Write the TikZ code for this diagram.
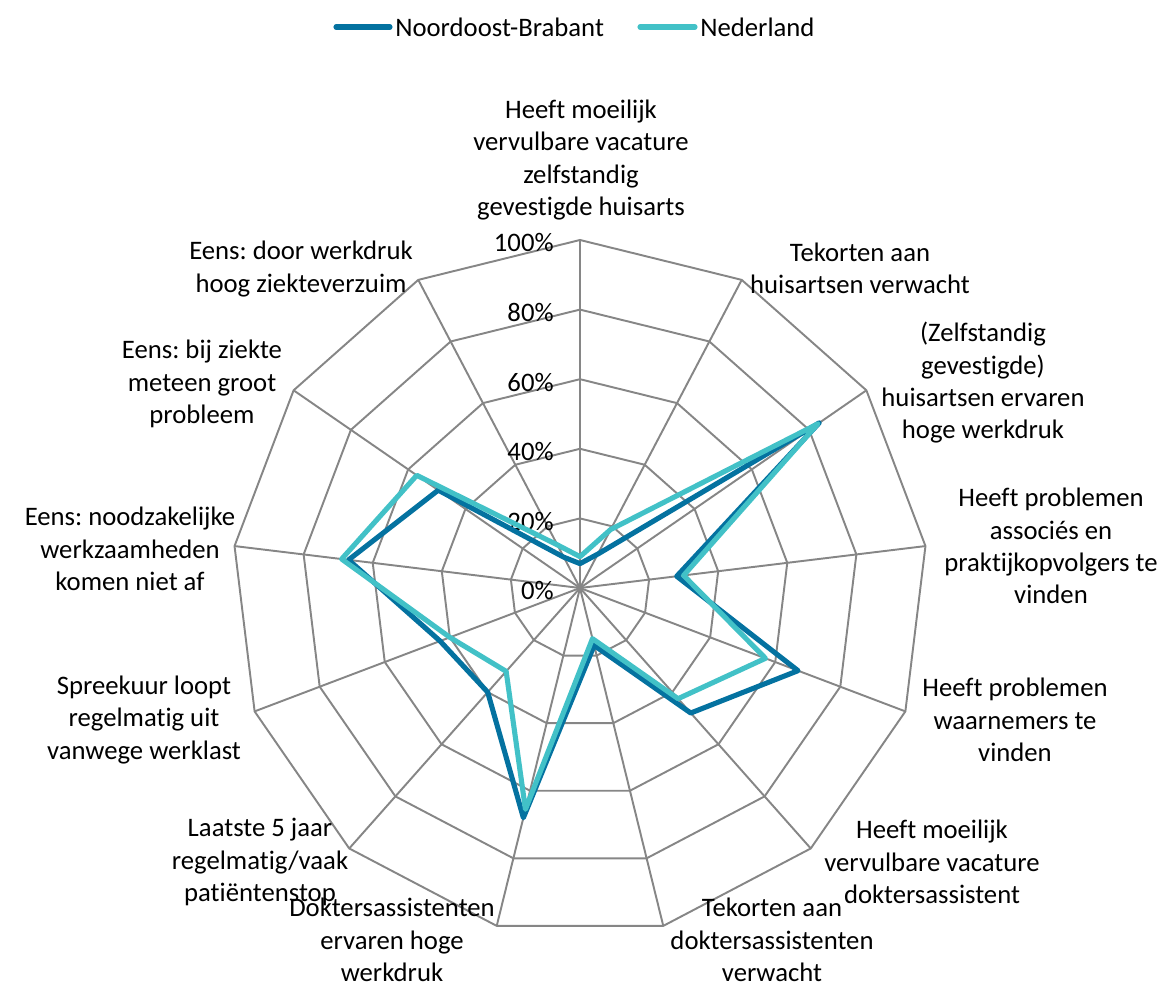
\documentclass[tikz,border=0pt]{standalone}
\usepackage{fontspec}
\setmainfont{Carlito}[Ligatures=NoCommon]
\usetikzlibrary{calc}
\definecolor{nobrabant}{RGB}{4,114,160}
\definecolor{nederland}{RGB}{66,193,199}
\definecolor{raster}{RGB}{134,134,134}
\frenchspacing

\begin{document}
\begin{tikzpicture}[x=0.02cm,y=0.02cm,
		font=\fontsize{15.2}{18.4}\selectfont,
		rasterlijn/.style={draw=raster, line width=1.1pt},
		nblijn/.style={draw=nobrabant, line width=2.9pt, line join=round},
		nllijn/.style={draw=nederland, line width=2.9pt, line join=round},
		as/.style={align=center, inner sep=0pt}]
		\useasboundingbox (-580,588) rectangle (582,-398);
		
		% Raster
		\foreach \p in {1,...,5}
		\draw[rasterlijn] (90:{\p*69.6}) \foreach \k in {1,...,12} { -- ({90-\k*360/13}:{\p*69.6}) } -- cycle;
		\foreach \k in {0,...,12}
		\draw[rasterlijn] (0,0) -- ({90-\k*360/13}:348);
		
		% Schaal
		\foreach \t in {0,20,...,100}
		\node[anchor=east, inner sep=0pt] (schaal\t) at (-26,{\t*3.48-3}) {\t\%};
		
		% Reeksen
		\foreach \v [count=\k from 0] in {7,11,83.5,28,67,48,17,68,40,43,67,49.5,10}
		\coordinate (nb\k) at ({90-\k*360/13}:{3.48*\v});
		\foreach \v [count=\k from 0] in {9,19,83,30,57,42.5,15,65.5,32,40,69,57,14}
		\coordinate (nl\k) at ({90-\k*360/13}:{3.48*\v});
		\draw[nblijn] (nb0) \foreach \k in {1,...,12} { -- (nb\k) } -- cycle;
		\draw[nllijn] (nl0) \foreach \k in {1,...,12} { -- (nl\k) } -- cycle;
		
		% Legenda
		\coordinate (lnb1) at (-244,561);
		\coordinate (lnb2) at (-190,561);
		\coordinate (lnl1) at (60,561);
		\coordinate (lnl2) at (115,561);
		\draw[nblijn, line cap=round] (lnb1) -- (lnb2);
		\draw[nllijn, line cap=round] (lnl1) -- (lnl2);
		\node[anchor=west, inner sep=0pt] (tnb) at (-185,561) {Noordoost-Brabant};
		\node[anchor=west, inner sep=0pt] (tnl) at (120,561) {Nederland};
		
		% Beschriftingen
		\node[as] (as0) at (1,428) {Heeft moeilijk\\vervulbare vacature\\zelfstandig\\gevestigde huisarts};
		\node[as] (as1) at (280,320) {Tekorten aan\\huisartsen verwacht};
		\node[as] (as2) at (403,205) {(Zelfstandig\\gevestigde)\\huisartsen ervaren\\hoge werkdruk};
		\node[as] (as3) at (471,42) {Heeft problemen\\associés en\\praktijkopvolgers te\\vinden};
		\node[as] (as4) at (435,-132) {Heeft problemen\\waarnemers te\\vinden};
		\node[as] (as5) at (352,-274) {Heeft moeilijk\\vervulbare vacature\\doktersassistent};
		\node[as] (as6) at (192,-352) {Tekorten aan\\doktersassistenten\\verwacht};
		\node[as] (as7) at (-188,-352) {Doktersassistenten\\ervaren hoge\\werkdruk};
		\node[as] (as8) at (-320,-274) {Laatste 5 jaar\\regelmatig/vaak\\patiëntenstop};
		\node[as] (as9) at (-436,-132) {Spreekuur loopt\\regelmatig uit\\vanwege werklast};
		\node[as] (as10) at (-450,39) {Eens: noodzakelijke\\werkzaamheden\\komen niet af};
		\node[as] (as11) at (-378,204) {Eens: bij ziekte\\meteen groot\\probleem};
		\node[as] (as12) at (-279,319) {Eens: door werkdruk\\hoog ziekteverzuim};
	\end{tikzpicture}
\end{document}
